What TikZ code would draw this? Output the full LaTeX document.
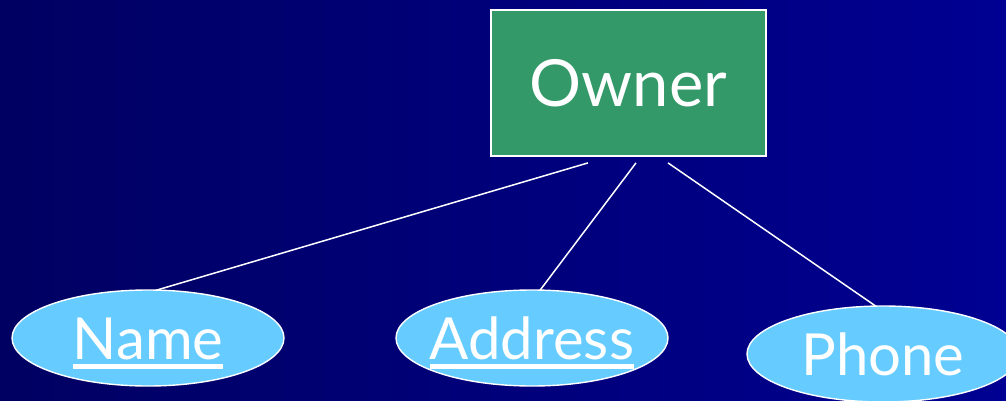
\documentclass[tikz,border=0pt]{standalone}
\usepackage{fontspec}
\setmainfont{Lato}
\usetikzlibrary{shapes.geometric}
\definecolor{bgleft}{RGB}{0,0,98}
\definecolor{bgright}{RGB}{0,0,146}
\definecolor{entgreen}{RGB}{52,153,104}
\definecolor{attrblue}{RGB}{102,204,255}
\newcommand\keyul[1]{\leavevmode\vtop{\hbox{#1}\kern5pt\hrule height 4.5pt}}
\tikzset{
  entity/.style={draw=white, line width=1.8pt, fill=entgreen, text=white,
    minimum width=275pt, minimum height=146pt, inner sep=0pt,
    text height=47pt, text depth=0pt, font=\fontsize{65}{70}\selectfont},
  attr/.style={ellipse, draw=white, line width=1.4pt, fill=attrblue, text=white,
    minimum width=272pt, minimum height=96pt, inner sep=0pt, inner xsep=-50pt,
    text height=42pt, text depth=0pt, font=\fontsize{58}{62}\selectfont},
  link/.style={draw=white, line width=1.5pt}
}
\begin{document}
\begin{tikzpicture}[x=1pt,y=-1pt]
\useasboundingbox (0,0) rectangle (1006,401);
\shade[left color=bgleft, right color=bgright] (0,0) rectangle (1006,401);
\node[entity] (owner) at (628.5,83) {Owner};
\node[attr] (name) at (148,338) {\keyul{Name}};
\node[attr] (address) at (532,338) {\keyul{Address}};
\node[attr] (phone) at (883,354) {Phone};
\draw[link] ([xshift=-40.5pt,yshift=-6pt]owner.south) -- ([xshift=8pt,yshift=-1pt]name.north);
\draw[link] ([xshift=7.5pt,yshift=-6pt]owner.south) -- ([xshift=8pt,yshift=-1pt]address.north);
\draw[link] ([xshift=39.5pt,yshift=-6pt]owner.south) -- ([xshift=-7pt,yshift=-1pt]phone.north);
\end{tikzpicture}
\end{document}
